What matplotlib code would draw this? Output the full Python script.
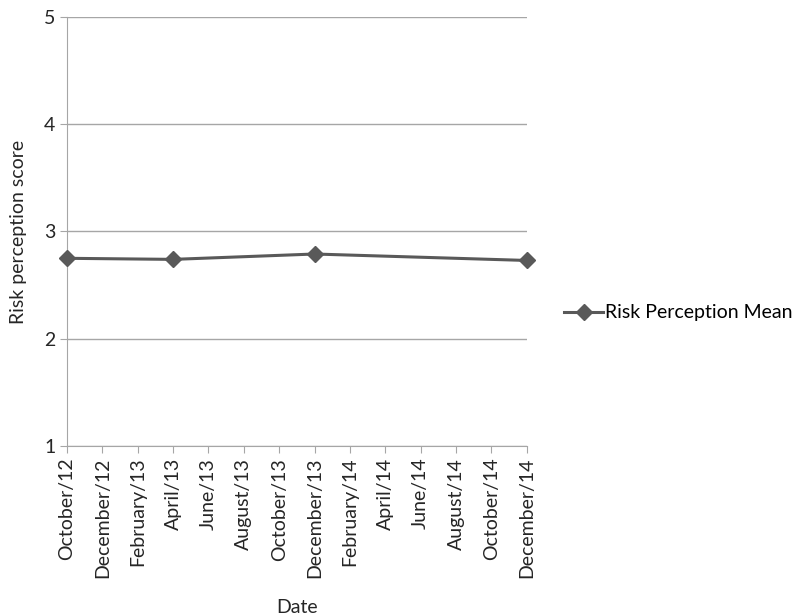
import matplotlib.pyplot as plt

plt.rcParams["font.family"] = ["Lato", "DejaVu Sans"]

# survey waves and mean risk perception scores
wave_dates = ["2012-10", "2013-04", "2013-12", "2014-12"]
risk_mean = [2.75, 2.74, 2.79, 2.73]

tick_labels = [
    "October/12", "December/12", "February/13", "April/13", "June/13",
    "August/13", "October/13", "December/13", "February/14", "April/14",
    "June/14", "August/14", "October/14", "December/14",
]


def month_index(s, start=(2012, 10)):
    y, m = map(int, s.split("-"))
    return (y - start[0]) * 12 + (m - start[1])


x = [month_index(d) for d in wave_dates]
tick_pos = list(range(0, 2 * len(tick_labels), 2))

grid_col = "#a6a6a6"
line_col = "#595959"
fs = 14

fig = plt.figure(figsize=(7.98, 6.16), dpi=100)
ax = fig.add_axes([0.084, 0.276, 0.576, 0.6964])

ax.plot(x, risk_mean, color=line_col, lw=2.2, marker="D", ms=8,
        label="Risk Perception Mean", clip_on=False, zorder=3)

ax.set_xlim(0, tick_pos[-1])
ax.set_ylim(1, 5)
ax.set_yticks([1, 2, 3, 4, 5])
ax.set_xticks(tick_pos)
ax.set_xticklabels(tick_labels, rotation=90)
ax.yaxis.grid(True, color=grid_col, lw=1)
ax.set_axisbelow(True)

for side in ("top", "right"):
    ax.spines[side].set_visible(False)
for side in ("left", "bottom"):
    ax.spines[side].set_color(grid_col)
ax.tick_params(axis="both", colors=grid_col, labelcolor="#262626",
               labelsize=fs, length=5, direction="out")

ax.set_xlabel("Date", fontsize=fs, color="#262626", labelpad=15)
ax.set_ylabel("Risk perception score", fontsize=fs, color="#262626",
              labelpad=12)

fig.legend(loc="center left", bbox_to_anchor=(0.685, 0.492), frameon=False,
           fontsize=fs, handlelength=2.0, handletextpad=0.1)

fig.savefig("out.png", dpi=100)
plt.close()
